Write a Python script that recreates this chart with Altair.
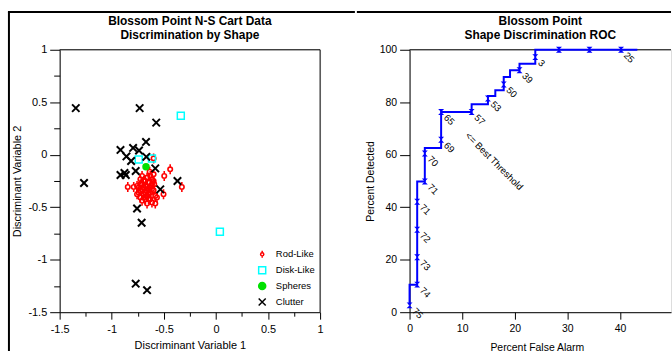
import altair as alt
import pandas as pd

FONT = "Liberation Sans"

# ---------------- Left panel: discriminant scatter ----------------
groups = ["Rod-Like", "Disk-Like", "Spheres", "Clutter"]

rod_x = [-0.598, -0.439, -0.496, -0.327, -0.846, -0.789, -0.636, -0.598, -0.661, -0.614,
         -0.693, -0.646, -0.592, -0.725, -0.677, -0.630, -0.757, -0.709, -0.661, -0.598,
         -0.741, -0.693, -0.646, -0.582, -0.725, -0.677, -0.630, -0.709, -0.614, -0.661,
         -0.582, -0.725, -0.566, -0.503, -0.677, -0.709, -0.630, -0.741, -0.661, -0.614,
         -0.693, -0.646, -0.598, -0.757, -0.709, -0.677, -0.630, -0.661, -0.614, -0.725,
         -0.693, -0.646]
rod_y = [-0.035, -0.139, -0.203, -0.307, -0.307, -0.307, -0.162, -0.187, -0.218, -0.234,
         -0.250, -0.266, -0.282, -0.282, -0.297, -0.313, -0.297, -0.329, -0.345, -0.338,
         -0.361, -0.376, -0.376, -0.392, -0.408, -0.423, -0.423, -0.439, -0.455, -0.465,
         -0.465, -0.345, -0.408, -0.376, -0.250, -0.203, -0.203, -0.313, -0.297, -0.282,
         -0.408, -0.329, -0.250, -0.376, -0.282, -0.361, -0.361, -0.392, -0.329, -0.234,
         -0.313, -0.423]

disk_x = [-0.337, -0.741, -0.614, 0.038]
disk_y = [0.372, -0.045, -0.035, -0.733]

sphere_x = [-0.671]
sphere_y = [-0.115]

clutter_x = [-1.345, -0.732, -0.573, -0.671, -0.916, -0.795, -0.738, -0.859, -0.814, -0.668,
             -0.770, -0.916, -0.878, -0.865, -0.582, -1.266, -0.369, -0.534, -0.757, -0.713,
             -0.770, -0.661]
clutter_y = [0.444, 0.444, 0.306, 0.122, 0.046, 0.065, 0.040, -0.016, -0.060, -0.020,
             -0.155, -0.193, -0.174, -0.193, -0.130, -0.269, -0.250, -0.330, -0.512, -0.648,
             -1.228, -1.290]

# ---------------- Right panel: ROC curve ----------------
roc_far = [0.0, 1.45, 1.45, 1.45, 1.45, 2.9, 2.9, 6.0, 6.0, 6.0, 11.8, 14.9, 14.9, 16.3,
           17.9, 17.9, 19.1, 20.9, 23.9, 23.9, 28.4, 34.2, 40.2, 43.3]
roc_pd = [2.6, 10.5, 20.9, 31.4, 42.1, 49.8, 60.5, 62.6, 65.7, 76.3, 76.3, 79.2, 81.4, 82.4,
          84.6, 86.8, 89.6, 92.2, 94.7, 97.2, 100.0, 100.0, 100.0, 100.0]
roc_label = ["75", "74", "73", "72", "71", "71", "70", None, "69", "65", "57", None, "53", None,
             None, "50", None, "39", None, "3", "", "", "25", None]

best_text = ["<= Best Threshold"]
best_far = [10.9]
best_pd = [67.8]

# ---------------- tables ----------------
rows = []
for g, xs, ys in [("Rod-Like", rod_x, rod_y), ("Disk-Like", disk_x, disk_y),
                  ("Spheres", sphere_x, sphere_y), ("Clutter", clutter_x, clutter_y)]:
    for a, b in zip(xs, ys):
        rows.append({"x": a, "y": b, "group": g})
sdf = pd.DataFrame(rows)
size_map = {"Rod-Like": 100, "Disk-Like": 49, "Spheres": 56, "Clutter": 56}
sw_map = {"Rod-Like": 1.6, "Disk-Like": 1.5, "Spheres": 0, "Clutter": 2}
sdf["sz"] = sdf["group"].map(size_map)
sdf["sw"] = sdf["group"].map(sw_map)

rdf = pd.DataFrame({"far": roc_far, "pd": roc_pd, "lab": roc_label})
rdf["idx"] = range(len(rdf))
mdf = rdf[rdf["lab"].notna()].copy()
bdf = pd.DataFrame({"far": best_far, "pd": best_pd, "t": best_text})
dummy = pd.DataFrame({"a": [0]})

ROD = "M0,-1L0,-0.45M0,0.45L0,1M-0.45,0A0.45,0.45 0 1,1 0.45,0A0.45,0.45 0 1,1 -0.45,0Z"
XSHAPE = "M-1,-1L1,1M-1,1L1,-1"
HOUR = "M-1,-1L1,-1L-1,1L1,1Z"


def minor(step):
    return f"abs(datum.value/{step} - round(datum.value/{step})) > 0.001"


def axis(values, step, title, orient, big, small, tx, ty, fs):
    return alt.Axis(
        values=values, title=title, grid=False, orient=orient,
        labelExpr=f"{minor(step)} ? '' : '' + datum.value",
        tickSize={"condition": {"test": minor(step), "value": small}, "value": big},
        domainColor="black", tickColor="black", tickWidth=1, domainWidth=1,
        labelFont=FONT, labelFontSize=fs, labelColor="black",
        labelPadding=3 if orient == "left" else 4,
        titleFont=FONT, titleFontSize=fs, titleFontWeight="normal", titleColor="black",
        titleX=tx, titleY=ty, titleBaseline="middle", labelFlush=False,
    )


def frame_rule(**enc):
    return alt.Chart(dummy).mark_rule(color="black", strokeWidth=1).encode(**enc)


LW, LH = 262, 264
RW, RH = 263, 264

lx_vals = [-1.5 + 0.25 * i for i in range(11)]
ly_vals = [-1.5 + 0.25 * i for i in range(11)]

leg = alt.Legend(orient="none", legendX=199, legendY=201, title=None, labelFont=FONT,
                 labelFontSize=9.5, labelColor="black", symbolSize=50, rowPadding=2,
                 padding=0, labelOffset=9, symbolStrokeWidth=1.5)

scatter = alt.Chart(sdf).mark_point(opacity=1).encode(
    x=alt.X("x:Q", scale=alt.Scale(domain=[-1.5, 1], nice=False, zero=False),
            axis=axis(lx_vals, 0.5, "Discriminant Variable 1", "bottom", 7, 4, LW / 2, 34, 11)),
    y=alt.Y("y:Q", scale=alt.Scale(domain=[-1.5, 1], nice=False, zero=False),
            axis=axis(ly_vals, 0.5, "Discriminant Variable 2", "left", 10, 6, -42, LH / 2, 11)),
    shape=alt.Shape("group:N", scale=alt.Scale(domain=groups, range=[ROD, "square", "circle", XSHAPE]),
                    legend=leg),
    stroke=alt.Stroke("group:N", scale=alt.Scale(domain=groups,
                      range=["#ff0000", "#00ffff", "#00e000", "#000000"]), legend=leg),
    fill=alt.Fill("group:N", scale=alt.Scale(domain=groups,
                  range=["transparent", "transparent", "#00e000", "transparent"]), legend=leg),
    size=alt.Size("sz:Q", scale=None, legend=None),
    strokeWidth=alt.StrokeWidth("sw:Q", scale=None, legend=None),
)

left_border_v = alt.Chart(dummy).mark_rule(color="black", strokeWidth=2).encode(
    x=alt.value(-51), y=alt.value(-38), y2=alt.value(303))
left_border_h = alt.Chart(dummy).mark_rule(color="black", strokeWidth=2, strokeCap="square").encode(
    x=alt.value(-51), x2=alt.value(296), y=alt.value(-38))
left_top = frame_rule(x=alt.value(0), x2=alt.value(LW), y=alt.value(0))
left_right = frame_rule(x=alt.value(LW), y=alt.value(0), y2=alt.value(LH))

left = alt.layer(scatter, left_top, left_right, left_border_v, left_border_h).properties(
    width=LW, height=LH,
    title=alt.Title(["Blossom Point N-S Cart Data", "Discrimination by Shape"], font=FONT,
                    fontSize=12, fontWeight="bold", color="black", anchor="middle",
                    lineHeight=14, offset=-32),
)

rx_vals = [5 * i for i in range(10)]
ry_vals = [10 * i for i in range(11)]
xenc = alt.X("far:Q", scale=alt.Scale(domain=[0, 49.7], nice=False, zero=False),
             axis=axis(rx_vals, 10, "Percent False Alarm", "bottom", 7, 4, 128, 36, 10.5))
yenc = alt.Y("pd:Q", scale=alt.Scale(domain=[0, 100], nice=False, zero=False),
             axis=axis(ry_vals, 20, "Percent Detected", "left", 10, 6, -39, RH / 2, 10.5))

line = alt.Chart(rdf).mark_line(interpolate="step-before", color="#0000ff", strokeWidth=2).encode(
    x=xenc, y=yenc, order=alt.Order("idx:Q"))
pts = alt.Chart(mdf).mark_point(shape=HOUR, filled=True, color="#0000ff", size=36, opacity=1).encode(
    x="far:Q", y="pd:Q")
labs = alt.Chart(mdf).mark_text(angle=45, align="left", baseline="middle", dx=6, font=FONT,
                                fontSize=9.5, color="black").encode(x="far:Q", y="pd:Q", text="lab:N")
best = alt.Chart(bdf).mark_text(angle=45, align="left", baseline="middle", font=FONT,
                                fontSize=9.5, color="black").encode(x="far:Q", y="pd:Q", text="t:N")
right_top = frame_rule(x=alt.value(0), x2=alt.value(RW), y=alt.value(0))
right_border_h = alt.Chart(dummy).mark_rule(color="black", strokeWidth=2, strokeCap="square").encode(
    x=alt.value(-52), x2=alt.value(262), y=alt.value(-38))

right = alt.layer(right_top, line, pts, labs, best, right_border_h).properties(
    width=RW, height=RH,
    title=alt.Title(["Blossom Point", "Shape Discrimination ROC"], font=FONT,
                    fontSize=12, fontWeight="bold", color="black", anchor="middle",
                    lineHeight=14, offset=-32),
)

chart = alt.hconcat(left, right, spacing=0).properties(
    padding={"left": 7, "top": 9, "right": 0, "bottom": 0}
).configure_view(stroke=None).configure(background="white")

chart.save("out.html", embed_options={"renderer": "svg", "actions": False})
